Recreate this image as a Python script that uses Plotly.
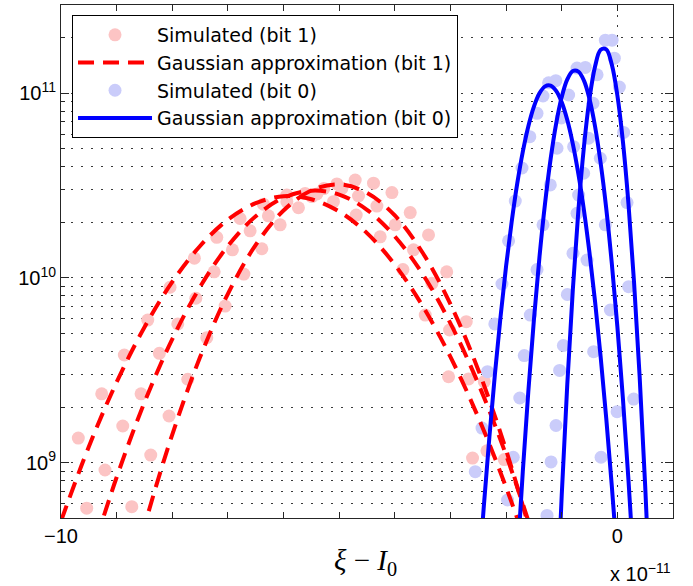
import plotly.graph_objects as go

# ---------------- data (x in units of 1e-11) ----------------
# Simulated, bit 1 (three distributions)
sim1_a_x = [-9.689, -9.268, -8.862, -8.441, -8.040, -7.603, -7.200, -6.781, -6.362, -5.941, -5.491, -5.103, -4.694, -4.263, -3.854, -3.453, -3.034, -2.603]
sim1_a_y = [1.36e9, 2.36e9, 3.83e9, 5.92e9, 8.91e9, 1.28e10, 1.66e10, 2.10e10, 2.51e10, 2.81e10, 2.76e10, 2.59e10, 2.19e10, 1.67e10, 1.11e10, 6.30e9, 2.92e9, 1.06e9]
sim1_b_x = [-9.538, -9.209, -8.890, -8.561, -8.232, -7.901, -7.577, -7.248, -6.919, -6.601, -6.272, -5.941, -5.612, -5.277, -4.951, -4.653, -4.322, -3.993, -3.664, -3.333, -3.016, -2.674, -2.344]
sim1_b_y = [5.67e8, 9.13e8, 1.58e9, 2.36e9, 3.91e9, 5.64e9, 7.77e9, 1.08e10, 1.42e10, 1.80e10, 2.17e10, 2.59e10, 2.87e10, 3.05e10, 3.06e10, 2.78e10, 2.45e10, 1.94e10, 1.42e10, 9.36e9, 5.23e9, 2.84e9, 1.16e9]
sim1_c_x = [-8.728, -8.387, -8.058, -7.721, -7.380, -7.050, -6.714, -6.390, -6.061, -5.732, -5.401, -5.041, -4.712, -4.383, -4.052, -3.723, -3.394, -3.067, -2.716, -2.392, -2.032]
sim1_c_y = [5.78e8, 1.10e9, 1.79e9, 2.83e9, 4.75e9, 7.05e9, 1.05e10, 1.44e10, 1.94e10, 2.40e10, 2.85e10, 3.23e10, 3.39e10, 3.26e10, 2.90e10, 2.26e10, 1.71e10, 1.08e10, 5.80e9, 2.75e9, 1.04e9]

# Gaussian approximation, bit 1
gauss1_a_x = [-10.0, -9.5, -9.0, -8.5, -8.0, -7.5, -7.0, -6.5, -6.0, -5.5, -5.0, -4.5, -4.0, -3.5, -3.0, -2.5, -2.0, -1.5]
gauss1_a_y = [4.83e8, 1.22e9, 2.73e9, 5.41e9, 9.53e9, 1.49e10, 2.07e10, 2.54e10, 2.77e10, 2.67e10, 2.29e10, 1.75e10, 1.18e10, 7.05e9, 3.74e9, 1.76e9, 7.36e8, 2.73e8]
gauss1_b_x = [-9.5, -9.0, -8.5, -8.0, -7.5, -7.0, -6.5, -6.0, -5.5, -5.0, -4.5, -4.0, -3.5, -3.0, -2.5, -2.0, -1.5]
gauss1_b_y = [2.85e8, 8.34e8, 2.12e9, 4.67e9, 8.95e9, 1.49e10, 2.16e10, 2.72e10, 2.97e10, 2.83e10, 2.34e10, 1.68e10, 1.05e10, 5.68e9, 2.68e9, 1.10e9, 3.91e8]
gauss1_c_x = [-9.0, -8.5, -8.0, -7.5, -7.0, -6.5, -6.0, -5.5, -5.0, -4.5, -4.0, -3.5, -3.0, -2.5, -2.0, -1.5]
gauss1_c_y = [1.21e8, 4.53e8, 1.42e9, 3.73e9, 8.21e9, 1.51e10, 2.32e10, 2.98e10, 3.21e10, 2.89e10, 2.18e10, 1.37e10, 7.22e9, 3.18e9, 1.17e9, 3.61e8]

# Simulated, bit 0
sim0_d_x = [-2.554, -2.433, -2.333, -2.203, -2.074, -1.955, -1.835, -1.714, -1.574, -1.444, -1.336, -1.236, -1.106, -1.007, -0.786, -0.696, -0.545, -0.426, -0.293]
sim0_d_y = [8.94e8, 1.54e9, 3.11e9, 5.64e9, 9.28e9, 1.59e10, 2.61e10, 3.94e10, 5.82e10, 7.79e10, 9.67e10, 1.14e11, 1.17e11, 7.35e10, 5.14e10, 2.81e10, 1.25e10, 3.99e9, 1.07e9]
sim0_e_x = [-1.973, -1.871, -1.754, -1.673, -1.565, -1.444, -1.336, -1.205, -1.085, -0.876, -0.725, -0.576, -0.437, -0.306, -0.216, -0.126, -0.005]
sim0_e_y = [6.28e8, 1.07e9, 2.24e9, 3.80e9, 6.30e9, 1.11e10, 1.94e10, 3.19e10, 5.04e10, 9.79e10, 1.37e11, 1.38e11, 8.83e10, 4.45e10, 1.94e10, 6.71e9, 1.89e9]
sim0_f_x = [-1.264, -1.192, -1.103, -1.038, -0.971, -0.899, -0.797, -0.725, -0.606, -0.516, -0.365, -0.216, -0.095, -0.054, 0.036, 0.113, 0.174, 0.203, 0.293]
sim0_f_y = [5.18e8, 1.01e9, 1.59e9, 3.16e9, 4.31e9, 8.14e9, 1.36e10, 2.24e10, 3.69e10, 5.71e10, 1.26e11, 1.94e11, 1.94e11, 1.55e11, 1.08e11, 6.14e10, 2.56e10, 8.97e9, 2.21e9]

# Gaussian approximation, bit 0
gauss0_d_x = [-2.5, -2.4, -2.3, -2.2, -2.1, -2.0, -1.9, -1.8, -1.7, -1.6, -1.5, -1.4, -1.3, -1.2, -1.1, -1.0, -0.9, -0.8, -0.7, -0.6, -0.5, -0.4, -0.3, -0.2, -0.1, 0.0]
gauss0_d_y = [2.28e8, 5.83e8, 1.38e9, 3.03e9, 6.16e9, 1.16e10, 2.01e10, 3.24e10, 4.82e10, 6.64e10, 8.47e10, 1.00e11, 1.09e11, 1.10e11, 1.03e11, 8.94e10, 7.16e10, 5.31e10, 3.65e10, 2.32e10, 1.36e10, 7.41e9, 3.73e9, 1.74e9, 7.49e8, 2.99e8]
gauss0_e_x = [-1.8, -1.7, -1.6, -1.5, -1.4, -1.3, -1.2, -1.1, -1.0, -0.9, -0.8, -0.7, -0.6, -0.5, -0.4, -0.3, -0.2, -0.1, 0.0, 0.1, 0.2, 0.3]
gauss0_e_y = [2.92e8, 8.93e8, 2.44e9, 5.94e9, 1.30e10, 2.53e10, 4.40e10, 6.86e10, 9.55e10, 1.19e11, 1.32e11, 1.31e11, 1.17e11, 9.28e10, 6.59e10, 4.18e10, 2.38e10, 1.20e10, 5.46e9, 2.22e9, 8.03e8, 2.60e8]
gauss0_f_x = [-1.1, -1.0, -0.9, -0.8, -0.7, -0.6, -0.5, -0.4, -0.3, -0.2, -0.1, 0.0, 0.1, 0.2, 0.3, 0.4, 0.5, 0.6]
gauss0_f_y = [1.38e8, 6.67e8, 2.66e9, 8.69e9, 2.34e10, 5.16e10, 9.38e10, 1.40e11, 1.72e11, 1.73e11, 1.43e11, 9.75e10, 5.46e10, 2.51e10, 9.47e9, 2.94e9, 7.50e8, 1.57e8]

# axis ticks
x_tick_vals = [-10, 0]
x_tick_text = ["\u221210", "0"]
x_minor_vals = [-9, -8, -7, -6, -5, -4, -3, -2, -1, 1]
y_tick_vals = [1e9, 1e10, 1e11]
y_tick_text = ["10<sup>9</sup>", "10<sup>10</sup>", "10<sup>11</sup>"]
y_minor_vals = [6e8, 7e8, 8e8, 9e8,
                2e9, 3e9, 4e9, 5e9, 6e9, 7e9, 8e9, 9e9,
                2e10, 3e10, 4e10, 5e10, 6e10, 7e10, 8e10, 9e10,
                2e11, 3e11]


def joined(xs_list, ys_list):
    X, Y = [], []
    for xs, ys in zip(xs_list, ys_list):
        X += list(xs) + [None]
        Y += list(ys) + [None]
    return X, Y


RED_DOT = "rgb(252,196,196)"
BLUE_DOT = "rgb(202,204,250)"

fig = go.Figure()

x, y = joined([sim1_a_x, sim1_b_x, sim1_c_x], [sim1_a_y, sim1_b_y, sim1_c_y])
fig.add_trace(go.Scatter(x=x, y=y, mode="markers", name="Simulated (bit 1)", legendrank=1,
                         marker=dict(color=RED_DOT, size=13, line=dict(width=0))))
x, y = joined([sim0_d_x, sim0_e_x, sim0_f_x], [sim0_d_y, sim0_e_y, sim0_f_y])
fig.add_trace(go.Scatter(x=x, y=y, mode="markers", name="Simulated (bit 0)", legendrank=3,
                         marker=dict(color=BLUE_DOT, size=13, line=dict(width=0))))
x, y = joined([gauss1_a_x, gauss1_b_x, gauss1_c_x], [gauss1_a_y, gauss1_b_y, gauss1_c_y])
fig.add_trace(go.Scatter(x=x, y=y, mode="lines", name="Gaussian approximation (bit 1)", legendrank=2,
                         line=dict(color="rgb(255,0,0)", width=4, dash="16px,9px", shape="spline"),
                         connectgaps=False))
x, y = joined([gauss0_d_x, gauss0_e_x, gauss0_f_x], [gauss0_d_y, gauss0_e_y, gauss0_f_y])
fig.add_trace(go.Scatter(x=x, y=y, mode="lines", name="Gaussian approximation (bit 0)", legendrank=4,
                         line=dict(color="rgb(0,0,255)", width=4, shape="spline"),
                         connectgaps=False))

AX = "#262626"
GRID = "#3a3a3a"
DOTS = "1.5px,8.5px"
fig.update_layout(
    width=693, height=586,
    margin=dict(l=61, r=20, t=5, b=68),
    paper_bgcolor="white", plot_bgcolor="white",
    font=dict(family="Liberation Sans, Arial, sans-serif", size=20, color="black"),
    showlegend=True,
    legend=dict(x=0.018, y=0.9805, xanchor="left", yanchor="top",
                bgcolor="white", bordercolor="black", borderwidth=1,
                font=dict(family="DejaVu Sans, sans-serif", size=19, color="black"),
                itemwidth=74, traceorder="normal", tracegroupgap=0),
    xaxis=dict(range=[-10, 1], tickmode="array", tickvals=x_tick_vals, ticktext=x_tick_text,
               ticks="inside", ticklen=6, tickcolor=AX, tickwidth=1,
               showline=True, linecolor=AX, linewidth=1, mirror="ticks",
               showgrid=True, gridcolor=GRID, gridwidth=1, griddash=DOTS,
               zeroline=False,
               minor=dict(tickmode="array", tickvals=x_minor_vals, ticks="inside", ticklen=6,
                          tickcolor=AX, tickwidth=1, showgrid=False),
               tickfont=dict(size=20)),
    yaxis=dict(type="log", range=[8.7006, 11.478], tickmode="array", tickvals=y_tick_vals,
               ticktext=y_tick_text,
               ticks="inside", ticklen=8, tickcolor=AX, tickwidth=1,
               showline=True, linecolor=AX, linewidth=1, mirror="ticks",
               showgrid=True, gridcolor=GRID, gridwidth=1, griddash=DOTS,
               zeroline=False,
               minor=dict(tickmode="array", tickvals=y_minor_vals, ticks="inside", ticklen=4,
                          tickcolor=AX, tickwidth=1, showgrid=True, gridcolor=GRID,
                          gridwidth=1, griddash=DOTS),
               tickfont=dict(size=20)),
    annotations=[
        dict(text="<i>\u03be</i> \u2212 <i>I</i><sub>0</sub>", xref="paper", yref="paper",
             x=0.497, y=-0.086, xanchor="center", yanchor="middle", showarrow=False,
             font=dict(family="Liberation Serif, DejaVu Serif, serif", size=29, color="black")),
        dict(text="x 10<sup>\u221211</sup>", xref="paper", yref="paper",
             x=1.0, y=-0.107, xanchor="right", yanchor="middle", showarrow=False,
             font=dict(family="Liberation Sans, Arial, sans-serif", size=20, color="black")),
    ],
)

fig.write_html("out.html",
               config={"displayModeBar": False},
               post_script="document.body.style.margin='0px';document.body.style.overflow='hidden';")
